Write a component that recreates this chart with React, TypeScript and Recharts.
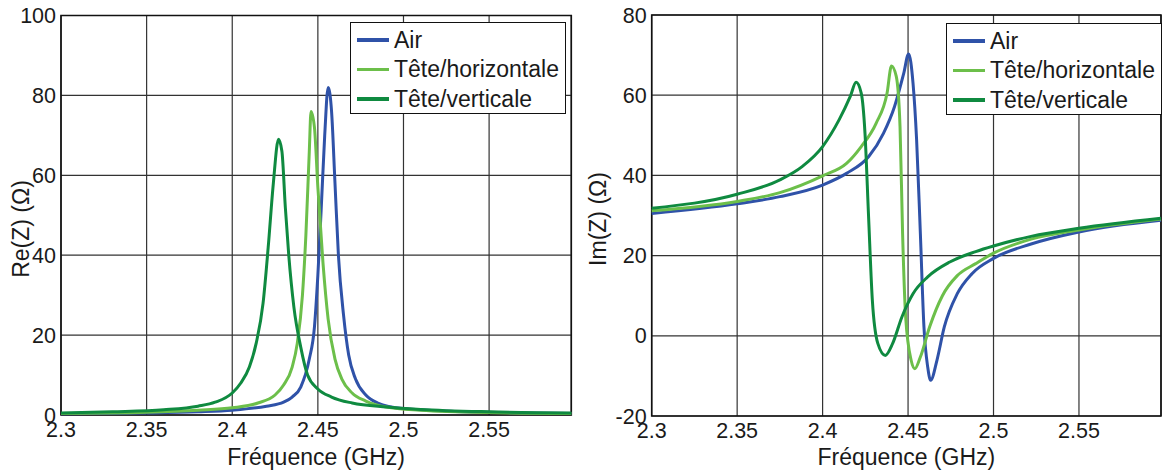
import React from "react";
import { LineChart, Line, XAxis, YAxis, CartesianGrid, ReferenceArea } from "recharts";

// frequency axis (GHz)
const FREQ_MIN = 2.3;
const FREQ_MAX = 2.598;
const freqTicks = [2.3, 2.35, 2.4, 2.45, 2.5, 2.55];
const reTicks = [0, 20, 40, 60, 80, 100];
const imTicks = [-20, 0, 20, 40, 60, 80];

const seriesNames = ["Air", "Tête/horizontale", "Tête/verticale"];
const seriesColors = ["#2f52a8", "#6cbf4a", "#0f8a40"];

// Re(Z), ohms
const airReFreq = [2.3, 2.35, 2.38, 2.4, 2.42, 2.43, 2.435, 2.44, 2.445, 2.448, 2.45, 2.452, 2.454, 2.456, 2.458, 2.46, 2.462, 2.465, 2.468, 2.472, 2.478, 2.485, 2.5, 2.53, 2.56, 2.598];
const airRe = [0.3, 0.5, 0.8, 1.2, 2.2, 3.2, 4.5, 7, 14, 22, 35, 52, 70, 82, 76, 58, 40, 25, 15, 9, 5, 3, 1.6, 0.9, 0.6, 0.4];

const horReFreq = [2.3, 2.35, 2.38, 2.4, 2.415, 2.425, 2.43, 2.435, 2.438, 2.441, 2.443, 2.445, 2.446, 2.448, 2.45, 2.453, 2.456, 2.46, 2.464, 2.47, 2.478, 2.49, 2.51, 2.55, 2.598];
const horRe = [0.4, 0.7, 1.2, 1.8, 3, 5, 7.5, 12, 18, 30, 45, 66, 76, 72, 57, 38, 24, 14, 9, 5.5, 3.5, 2, 1.2, 0.6, 0.4];

const verReFreq = [2.3, 2.33, 2.36, 2.38, 2.39, 2.4, 2.405, 2.41, 2.414, 2.418, 2.421, 2.424, 2.427, 2.429, 2.431, 2.433, 2.436, 2.44, 2.444, 2.45, 2.458, 2.47, 2.49, 2.51, 2.55, 2.598];
const verRe = [0.5, 0.8, 1.3, 2.2, 3.2, 5.5, 8, 12, 18, 28, 42, 58, 69, 66, 52, 40, 27, 17, 10, 6.5, 4.5, 3, 2, 1.4, 0.8, 0.5];

// Im(Z), ohms
const airImFreq = [2.3, 2.35, 2.375, 2.4, 2.414, 2.427, 2.4356, 2.4421, 2.4475, 2.4503, 2.4529, 2.455, 2.4572, 2.4593, 2.4615, 2.4632, 2.4669, 2.4712, 2.4788, 2.4874, 2.5, 2.522, 2.55, 2.598];
const airIm = [30.5, 32.9, 34.7, 37.6, 40.5, 44.7, 50.5, 57.2, 65.5, 70.3, 63, 48.9, 25.5, 2.2, -7.8, -11.1, -6.1, 2.2, 10.5, 15.5, 19.3, 22.9, 25.9, 28.8];

const horImFreq = [2.3, 2.35, 2.375, 2.4, 2.414, 2.4226, 2.4313, 2.4377, 2.4403, 2.4431, 2.4453, 2.4468, 2.4486, 2.4518, 2.454, 2.4572, 2.4626, 2.4701, 2.4788, 2.4896, 2.5, 2.522, 2.55, 2.598];
const horIm = [31.2, 33.5, 35.7, 39.9, 43, 47.2, 53, 60.5, 67.3, 64.7, 52.2, 25.5, 4.7, -6.1, -8.2, -5.3, 2.2, 10, 15, 18, 20.6, 24.1, 26.4, 29.1];

const verImFreq = [2.3, 2.35, 2.375, 2.388, 2.4, 2.4097, 2.4162, 2.4196, 2.4226, 2.4248, 2.4269, 2.4291, 2.4323, 2.4367, 2.441, 2.4464, 2.4529, 2.4615, 2.4744, 2.4896, 2.5, 2.522, 2.55, 2.598];
const verIm = [31.8, 35.3, 38.9, 42.2, 47.2, 53.9, 59.7, 63.2, 60.5, 50.5, 29.7, 8.9, -1.9, -4.9, -1.9, 4.7, 10.5, 14.7, 18.4, 21, 22.4, 24.8, 26.8, 29.3];

const zip = (f: number[], v: number[]) => f.map((x, i) => ({ f: x, v: v[i] }));

const reSeries = [zip(airReFreq, airRe), zip(horReFreq, horRe), zip(verReFreq, verRe)];
const imSeries = [zip(airImFreq, airIm), zip(horImFreq, horIm), zip(verImFreq, verIm)];

const FONT = "'Liberation Sans', Arial, sans-serif";
const TEXT = "#1a1a1a";
const tickStyle = { fontSize: 21.5, fontFamily: FONT, fill: TEXT };

function LegendBox({ left, top }: { left: number; top: number }) {
  return (
    <div
      style={{
        position: "absolute",
        left,
        top,
        width: 214,
        height: 90,
        border: "1.5px solid #111",
        background: "#fff",
        fontFamily: FONT,
        fontSize: 23,
        color: TEXT,
      }}
    >
      {seriesNames.map((n, i) => (
        <div
          key={n}
          style={{ position: "absolute", left: 6, top: 4 + i * 29.5, height: 26, display: "flex", alignItems: "center", whiteSpace: "nowrap" }}
        >
          <span style={{ display: "inline-block", width: 32, height: 3.5, background: seriesColors[i], marginRight: 5 }} />
          <span>{n}</span>
        </div>
      ))}
    </div>
  );
}

function Panel({
  data,
  yDomain,
  yTicks,
  yLabel,
  left,
  width,
  margin,
  yLabelPos,
  legendPos,
}: {
  data: { f: number; v: number }[][];
  yDomain: [number, number];
  yTicks: number[];
  yLabel: string;
  left: number;
  width: number;
  margin: { top: number; right: number; bottom: number; left: number };
  yLabelPos: { x: number; y: number };
  legendPos: { left: number; top: number };
}) {
  const plotLeft = margin.left + 45;
  const plotRight = width - margin.right;
  return (
    <div style={{ position: "absolute", left, top: 0, width, height: 472 }}>
      <LineChart width={width} height={472} margin={margin}>
        <CartesianGrid stroke="#333" strokeWidth={1.2} />
        <ReferenceArea x1={FREQ_MIN} x2={FREQ_MAX} y1={yDomain[0]} y2={yDomain[1]} fill="none" stroke="#111" strokeWidth={1.6} fillOpacity={0} />
        <XAxis
          dataKey="f"
          type="number"
          domain={[FREQ_MIN, FREQ_MAX]}
          ticks={freqTicks}
          allowDuplicatedCategory={false}
          height={30}
          tickSize={0}
          tickMargin={7}
          axisLine={false}
          tick={tickStyle}
          interval={0}
        />
        <YAxis
          type="number"
          domain={yDomain}
          ticks={yTicks}
          width={45}
          tickSize={0}
          tickMargin={5}
          axisLine={false}
          tick={tickStyle}
          interval={0}
        />
        {data.map((d, i) => (
          <Line
            key={seriesNames[i]}
            data={d}
            dataKey="v"
            type="monotone"
            stroke={seriesColors[i]}
            strokeWidth={3}
            dot={false}
            isAnimationActive={false}
          />
        ))}
      </LineChart>
      <div
        style={{
          position: "absolute",
          left: yLabelPos.x,
          top: yLabelPos.y,
          transform: "translate(-50%, -50%) rotate(-90deg)",
          fontFamily: FONT,
          fontSize: 23,
          color: TEXT,
          whiteSpace: "nowrap",
        }}
      >
        {yLabel}
      </div>
      <div
        style={{
          position: "absolute",
          left: (plotLeft + plotRight) / 2,
          top: 457,
          transform: "translate(-50%, -50%)",
          fontFamily: FONT,
          fontSize: 23,
          color: TEXT,
          whiteSpace: "nowrap",
        }}
      >
        Fréquence (GHz)
      </div>
      <LegendBox left={legendPos.left} top={legendPos.top} />
    </div>
  );
}

export default function App() {
  return (
    <div style={{ position: "absolute", left: 0, top: 0, width: 1163, height: 472, background: "#fff", overflow: "hidden" }}>
      <Panel
        data={reSeries}
        yDomain={[0, 100]}
        yTicks={reTicks}
        yLabel="Re(Z) (Ω)"
        left={0}
        width={590}
        margin={{ top: 15.5, right: 18.7, bottom: 27, left: 16 }}
        yLabelPos={{ x: 21, y: 229 }}
        legendPos={{ left: 350, top: 22 }}
      />
      <Panel
        data={imSeries}
        yDomain={[-20, 80]}
        yTicks={imTicks}
        yLabel="Im(Z) (Ω)"
        left={590}
        width={573}
        margin={{ top: 15, right: 2, bottom: 26, left: 16.7 }}
        yLabelPos={{ x: 8, y: 219 }}
        legendPos={{ left: 356, top: 23 }}
      />
    </div>
  );
}
